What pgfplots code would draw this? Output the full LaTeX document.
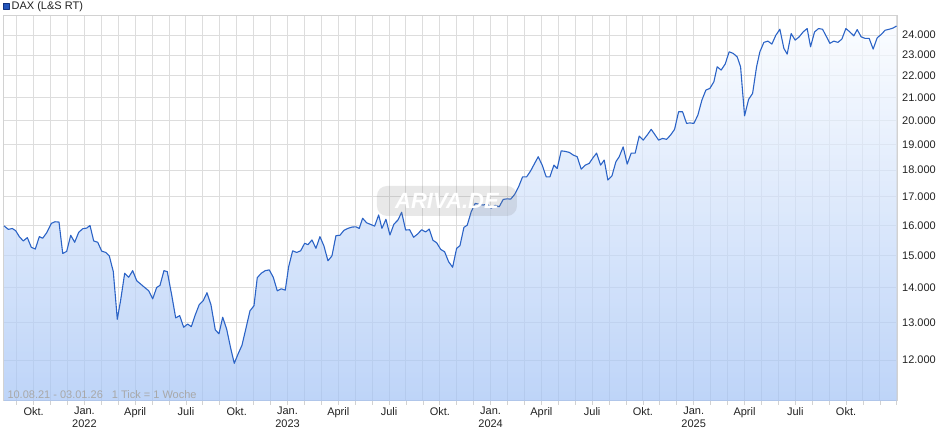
\documentclass[border=0pt]{standalone}
\usepackage{fontspec}
\setmainfont{Liberation Sans}
\usepackage{pgfplots}
\usepackage{pgfplotstable}
\pgfplotsset{compat=1.18}
\definecolor{gridc}{HTML}{DDDDDD}
\definecolor{framec}{HTML}{D2D2D2}
\definecolor{linec}{HTML}{2B63C6}
\definecolor{filltop}{HTML}{F8FBFF}
\definecolor{fillbot}{HTML}{A2C2F5}
\definecolor{legfill}{HTML}{2355BB}
\definecolor{legdraw}{HTML}{12327F}
\definecolor{labc}{HTML}{222222}
\definecolor{notec}{HTML}{A8A8A8}

\pgfplotstableread{
m v
7.250 15980
7.504 15860
7.741 15890
7.941 15815
8.154 15616
8.390 15474
8.627 15583
8.863 15265
9.099 15209
9.336 15616
9.536 15563
9.773 15748
10.044 16063
10.263 16119
10.499 16109
10.718 15067
10.954 15133
11.190 15662
11.426 15431
11.663 15762
11.899 15881
12.135 15904
12.330 15993
12.549 15474
12.785 15431
13.021 15143
13.258 15100
13.470 14988
13.707 14493
13.943 13093
14.144 13647
14.380 14444
14.616 14320
14.853 14524
15.089 14215
15.325 14113
15.561 14011
15.798 13914
16.034 13676
16.270 14012
16.465 14074
16.701 14524
16.896 14493
17.156 13790
17.393 13130
17.629 13196
17.865 12872
18.101 12960
18.314 12888
18.550 13216
18.787 13512
19.023 13627
19.242 13856
19.478 13503
19.732 12800
19.950 12693
20.169 13150
20.405 12818
20.642 12311
20.854 11918
21.079 12160
21.309 12386
21.545 12845
21.782 13331
22.018 13475
22.213 14308
22.449 14444
22.686 14524
22.922 14546
23.158 14320
23.394 13914
23.631 13971
23.867 13934
24.068 14648
24.304 15152
24.540 15099
24.776 15152
25.013 15397
25.208 15351
25.444 15506
25.680 15232
25.916 15616
26.153 15308
26.389 14833
26.625 14988
26.862 15649
27.098 15662
27.334 15828
27.570 15894
27.807 15937
28.043 15947
28.238 15894
28.438 16239
28.675 16084
28.911 16028
29.147 15970
29.384 16355
29.579 15894
29.815 16204
30.051 15672
30.288 16039
30.524 16179
30.743 16449
30.979 15838
31.215 15848
31.451 15596
31.688 15705
31.924 15848
32.160 15772
32.373 15871
32.592 15494
32.810 15417
33.047 15199
33.283 15120
33.519 14802
33.755 14629
33.992 15232
34.187 15318
34.423 15927
34.618 16003
34.854 16470
35.090 16765
35.327 16730
35.563 16706
35.799 16741
36.035 16590
36.272 16695
36.508 16646
36.744 16906
36.981 16927
37.181 16916
37.417 17086
37.654 17369
37.890 17742
38.126 17742
38.363 17966
38.599 18257
38.812 18517
39.048 18190
39.284 17742
39.503 17742
39.739 18190
39.934 18059
40.170 18754
40.407 18731
40.643 18691
40.879 18585
41.116 18517
41.352 18032
41.588 18190
41.824 18257
42.025 18454
42.261 18664
42.498 18190
42.710 18387
42.928 17620
43.165 17769
43.401 18320
43.596 18517
43.832 18912
44.069 18229
44.305 18664
44.541 18664
44.778 19353
45.014 19187
45.250 19394
45.487 19631
45.723 19394
45.924 19187
46.160 19257
46.396 19216
46.632 19394
46.869 19631
47.105 20380
47.341 20380
47.578 19880
47.773 19905
48.009 19880
48.245 20236
48.482 20891
48.718 21344
48.954 21422
49.190 21725
49.385 22433
49.622 22274
49.858 22563
50.094 23160
50.331 23080
50.567 22913
50.768 22433
51.004 20205
51.240 20922
51.477 21193
51.713 22433
51.908 23160
52.144 23630
52.381 23695
52.617 23545
52.853 23995
53.090 24300
53.326 23330
53.521 23045
53.757 24080
53.993 23745
54.230 23910
54.466 24163
54.702 24337
54.903 23410
55.139 24163
55.376 24337
55.612 24300
55.848 23910
56.043 23580
56.280 23695
56.516 23630
56.752 23795
56.989 24337
57.225 24163
57.461 23960
57.656 24285
57.893 23910
58.129 23830
58.365 23830
58.601 23295
58.838 23860
59.074 24030
59.310 24250
59.547 24300
59.783 24367
59.984 24470
}\daxdata

\begin{document}
\begin{tikzpicture}
\begin{axis}[
  scale only axis, width=894pt, height=385pt,
  ymode=log, log origin y=infty,
  xmin=7.19, xmax=60.01, ymin=11000, ymax=25000,
  xtick={9,12,...,57},
  xticklabels={Okt., Jan.\\2022, April, Juli, Okt., Jan.\\2023, April, Juli, Okt., Jan.\\2024, April, Juli, Okt., Jan.\\2025, April, Juli, Okt.},
  minor xtick={8,...,60},
  ytick={12000,13000,14000,15000,16000,17000,18000,19000,20000,21000,22000,23000,24000},
  yticklabels={12.000,13.000,14.000,15.000,16.000,17.000,18.000,19.000,20.000,21.000,22.000,23.000,24.000},
  xmajorgrids=true, xminorgrids=true, ymajorgrids=true,
  major grid style={draw=gridc, line width=1pt},
  minor grid style={draw=gridc, line width=1pt},
  axis line style={draw=framec, line width=1pt},
  xtick pos=bottom, ytick pos=right, yticklabel pos=right,
  tick align=outside,
  major tick length=4pt, minor tick length=4pt,
  xtick style={draw=framec, line width=0.8pt},
  minor x tick style={draw=framec, line width=0.8pt},
  ytick style={draw=none},
  xticklabel style={font=\fontsize{11}{12.6}\selectfont, align=center, text=labc, inner sep=0pt, yshift=-2pt},
  yticklabel style={font=\fontsize{11}{12}\selectfont, text=labc, anchor=west, inner sep=0pt, xshift=1pt},
  legend style={at={(axis description cs:0,1)}, anchor=south west, draw=none, fill=none,
    inner sep=0pt, outer sep=0pt, font=\fontsize{11}{12}\selectfont, text=labc,
    yshift=3pt, xshift=0pt},
  legend cell align=left,
  legend image code/.code={\draw[legdraw, fill=legfill, line width=0.6pt] (0pt,-3pt) rectangle (6pt,3pt);},
]
\addplot[draw=none, top color=filltop, bottom color=fillbot, fill opacity=0.7, forget plot] table[x=m, y=v] {\daxdata} \closedcycle;
\addplot[linec, line width=1.1pt, line join=round] table[x=m, y=v] {\daxdata};
\addlegendentry{DAX (L\&S RT)}
\node[anchor=base west, inner sep=0pt, xshift=4.3pt, yshift=2.3pt, text=notec, font=\fontsize{11}{12}\selectfont] at (rel axis cs:0,0) {10.08.21 - 03.01.26\hspace{9pt}1 Tick = 1 Woche};
\node[fill=gray, fill opacity=0.18, text opacity=1, text=white, rounded corners=10pt, font=\fontsize{22}{22}\selectfont\bfseries\itshape, minimum width=140pt, minimum height=30pt, inner sep=0pt] at (axis cs:33.42,16850) {ARIVA.DE};
\end{axis}
\pgfresetboundingbox
\path ([shift={(-3pt,-34pt)}]current axis.south west) rectangle ([shift={(43pt,16pt)}]current axis.north east);
\end{tikzpicture}
\end{document}
